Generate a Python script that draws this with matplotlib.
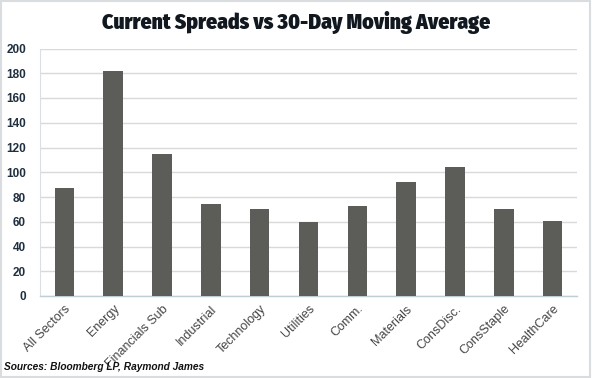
import matplotlib
matplotlib.use("Agg")
import matplotlib.pyplot as plt
from matplotlib.patches import Rectangle

categories = ["All Sectors", "Energy", "Financials Sub", "Industrial", "Technology",
              "Utilities", "Comm.", "Materials", "ConsDisc.", "ConsStaple", "HealthCare"]
values = [87, 182, 114.5, 74, 70, 59.5, 73, 92.5, 104, 70.5, 61]
yticks = [0, 20, 40, 60, 80, 100, 120, 140, 160, 180, 200]

fig = plt.figure(figsize=(5.92, 3.78), dpi=100)
ax = fig.add_axes([40/592, 1-296/378, 537/592, (296-48.5)/378])

x = range(len(categories))
ax.bar(x, values, width=0.4, color="#5c5d58", zorder=3)
ax.set_xlim(-0.5, len(categories)-0.5)
ax.set_ylim(0, 200)
ax.set_yticks(yticks)
ax.yaxis.grid(True, color="#d9d9d9", linewidth=1.0, zorder=0)
ax.set_axisbelow(True)
for s in ["top", "right"]:
    ax.spines[s].set_visible(False)
ax.spines["left"].set_color("#d9dfe3")
ax.spines["bottom"].set_color("#bfcdd5")
ax.spines["bottom"].set_linewidth(1.0)
ax.tick_params(axis="both", length=0)
ax.tick_params(axis="y", pad=10)
for lab in ax.get_yticklabels():
    lab.set_fontfamily("Liberation Sans")
    lab.set_fontweight("bold")
    lab.set_fontsize(8.5)
    lab.set_color("#1f2f3f")
ax.set_xticks(list(x))
ax.set_xticklabels(categories, rotation=45, ha="right", rotation_mode="anchor",
                   fontsize=9, color="#454545", family="Liberation Sans")
ax.tick_params(axis="x", pad=5)

title = fig.text(296/592, 1-22.5/378, "Current Spreads vs 30-Day Moving Average", ha="center", va="center",
                 fontsize=13, fontweight="black", family="Fira Sans Condensed", color="#111820")
src = fig.text(4/592, 1-367/378, "Sources: Bloomberg LP, Raymond James", ha="left", va="center",
               fontsize=8, fontweight="bold", fontstyle="italic", family="Liberation Sans",
               color="#111111")
fig.canvas.draw()
r = fig.canvas.get_renderer()
for t, target in [(title, 388), (src, 200)]:
    w = t.get_window_extent(r).width
    t.set_fontsize(t.get_fontsize() * target / w)
fig.patches.append(Rectangle((0.002, 0.003), 0.995, 0.994, transform=fig.transFigure,
                             fill=False, edgecolor="#d9dde0", linewidth=1.5))
fig.savefig("out.png", dpi=100, facecolor="white")
